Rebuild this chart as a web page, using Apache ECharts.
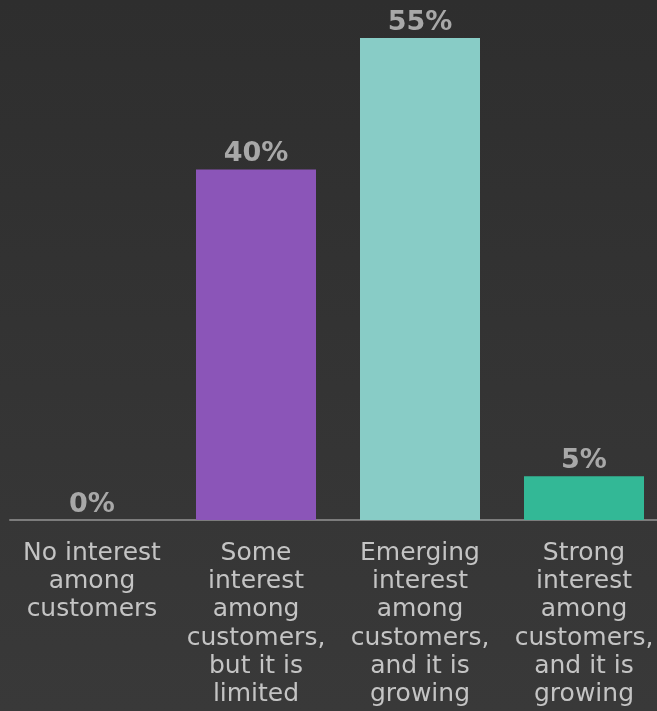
<!DOCTYPE html>
<html>
<head>
<meta charset="utf-8">
<script src="https://cdn.jsdelivr.net/npm/echarts@6/dist/echarts.min.js"></script>
<style>
  html, body { margin: 0; padding: 0; background: #333; overflow: hidden; }
  /* the canvas is a little wider than the window so the last column runs to the edge */
  #chart { width: 666px; height: 711px; }
</style>
</head>
<body>
<div id="chart"></div>
<script>
// Customer interest levels, share of respondents (%)
const categories = [
  'No interest\namong\ncustomers',
  'Some\ninterest\namong\ncustomers,\nbut it is\nlimited',
  'Emerging\ninterest\namong\ncustomers,\nand it is\ngrowing',
  'Strong\ninterest\namong\ncustomers,\nand it is\ngrowing'
];
const shares = [0, 40, 55, 5];
const barColors = ['#8b55b8', '#8b55b8', '#88ccc6', '#33b896'];

const chart = echarts.init(document.getElementById('chart'));
chart.setOption({
  backgroundColor: {
    type: 'linear', x: 0, y: 0, x2: 0, y2: 1,
    colorStops: [
      { offset: 0, color: '#2e2e2e' },
      { offset: 1, color: '#393939' }
    ]
  },
  animation: false,
  grid: { left: 10, right: 0, top: 38, bottom: 191, containLabel: false },
  xAxis: {
    type: 'category',
    data: categories,
    axisTick: { show: false },
    axisLine: { lineStyle: { color: '#7c7c7c', width: 2 } },
    axisLabel: {
      interval: 0,
      margin: 19,
      color: '#c4c4c4',
      fontFamily: 'DejaVu Sans',
      fontSize: 25,
      lineHeight: 28.3
    }
  },
  yAxis: {
    type: 'value',
    min: 0,
    max: 55,
    show: false,
    splitLine: { show: false }
  },
  series: [{
    type: 'bar',
    barWidth: 120,
    data: shares.map((v, i) => ({ value: v, itemStyle: { color: barColors[i] } })),
    label: {
      show: true,
      position: 'top',
      distance: 2,
      formatter: '{c}%',
      color: '#a8a8a8',
      fontFamily: 'DejaVu Sans',
      fontWeight: 'bold',
      fontSize: 27
    }
  }]
});
</script>
</body>
</html>
